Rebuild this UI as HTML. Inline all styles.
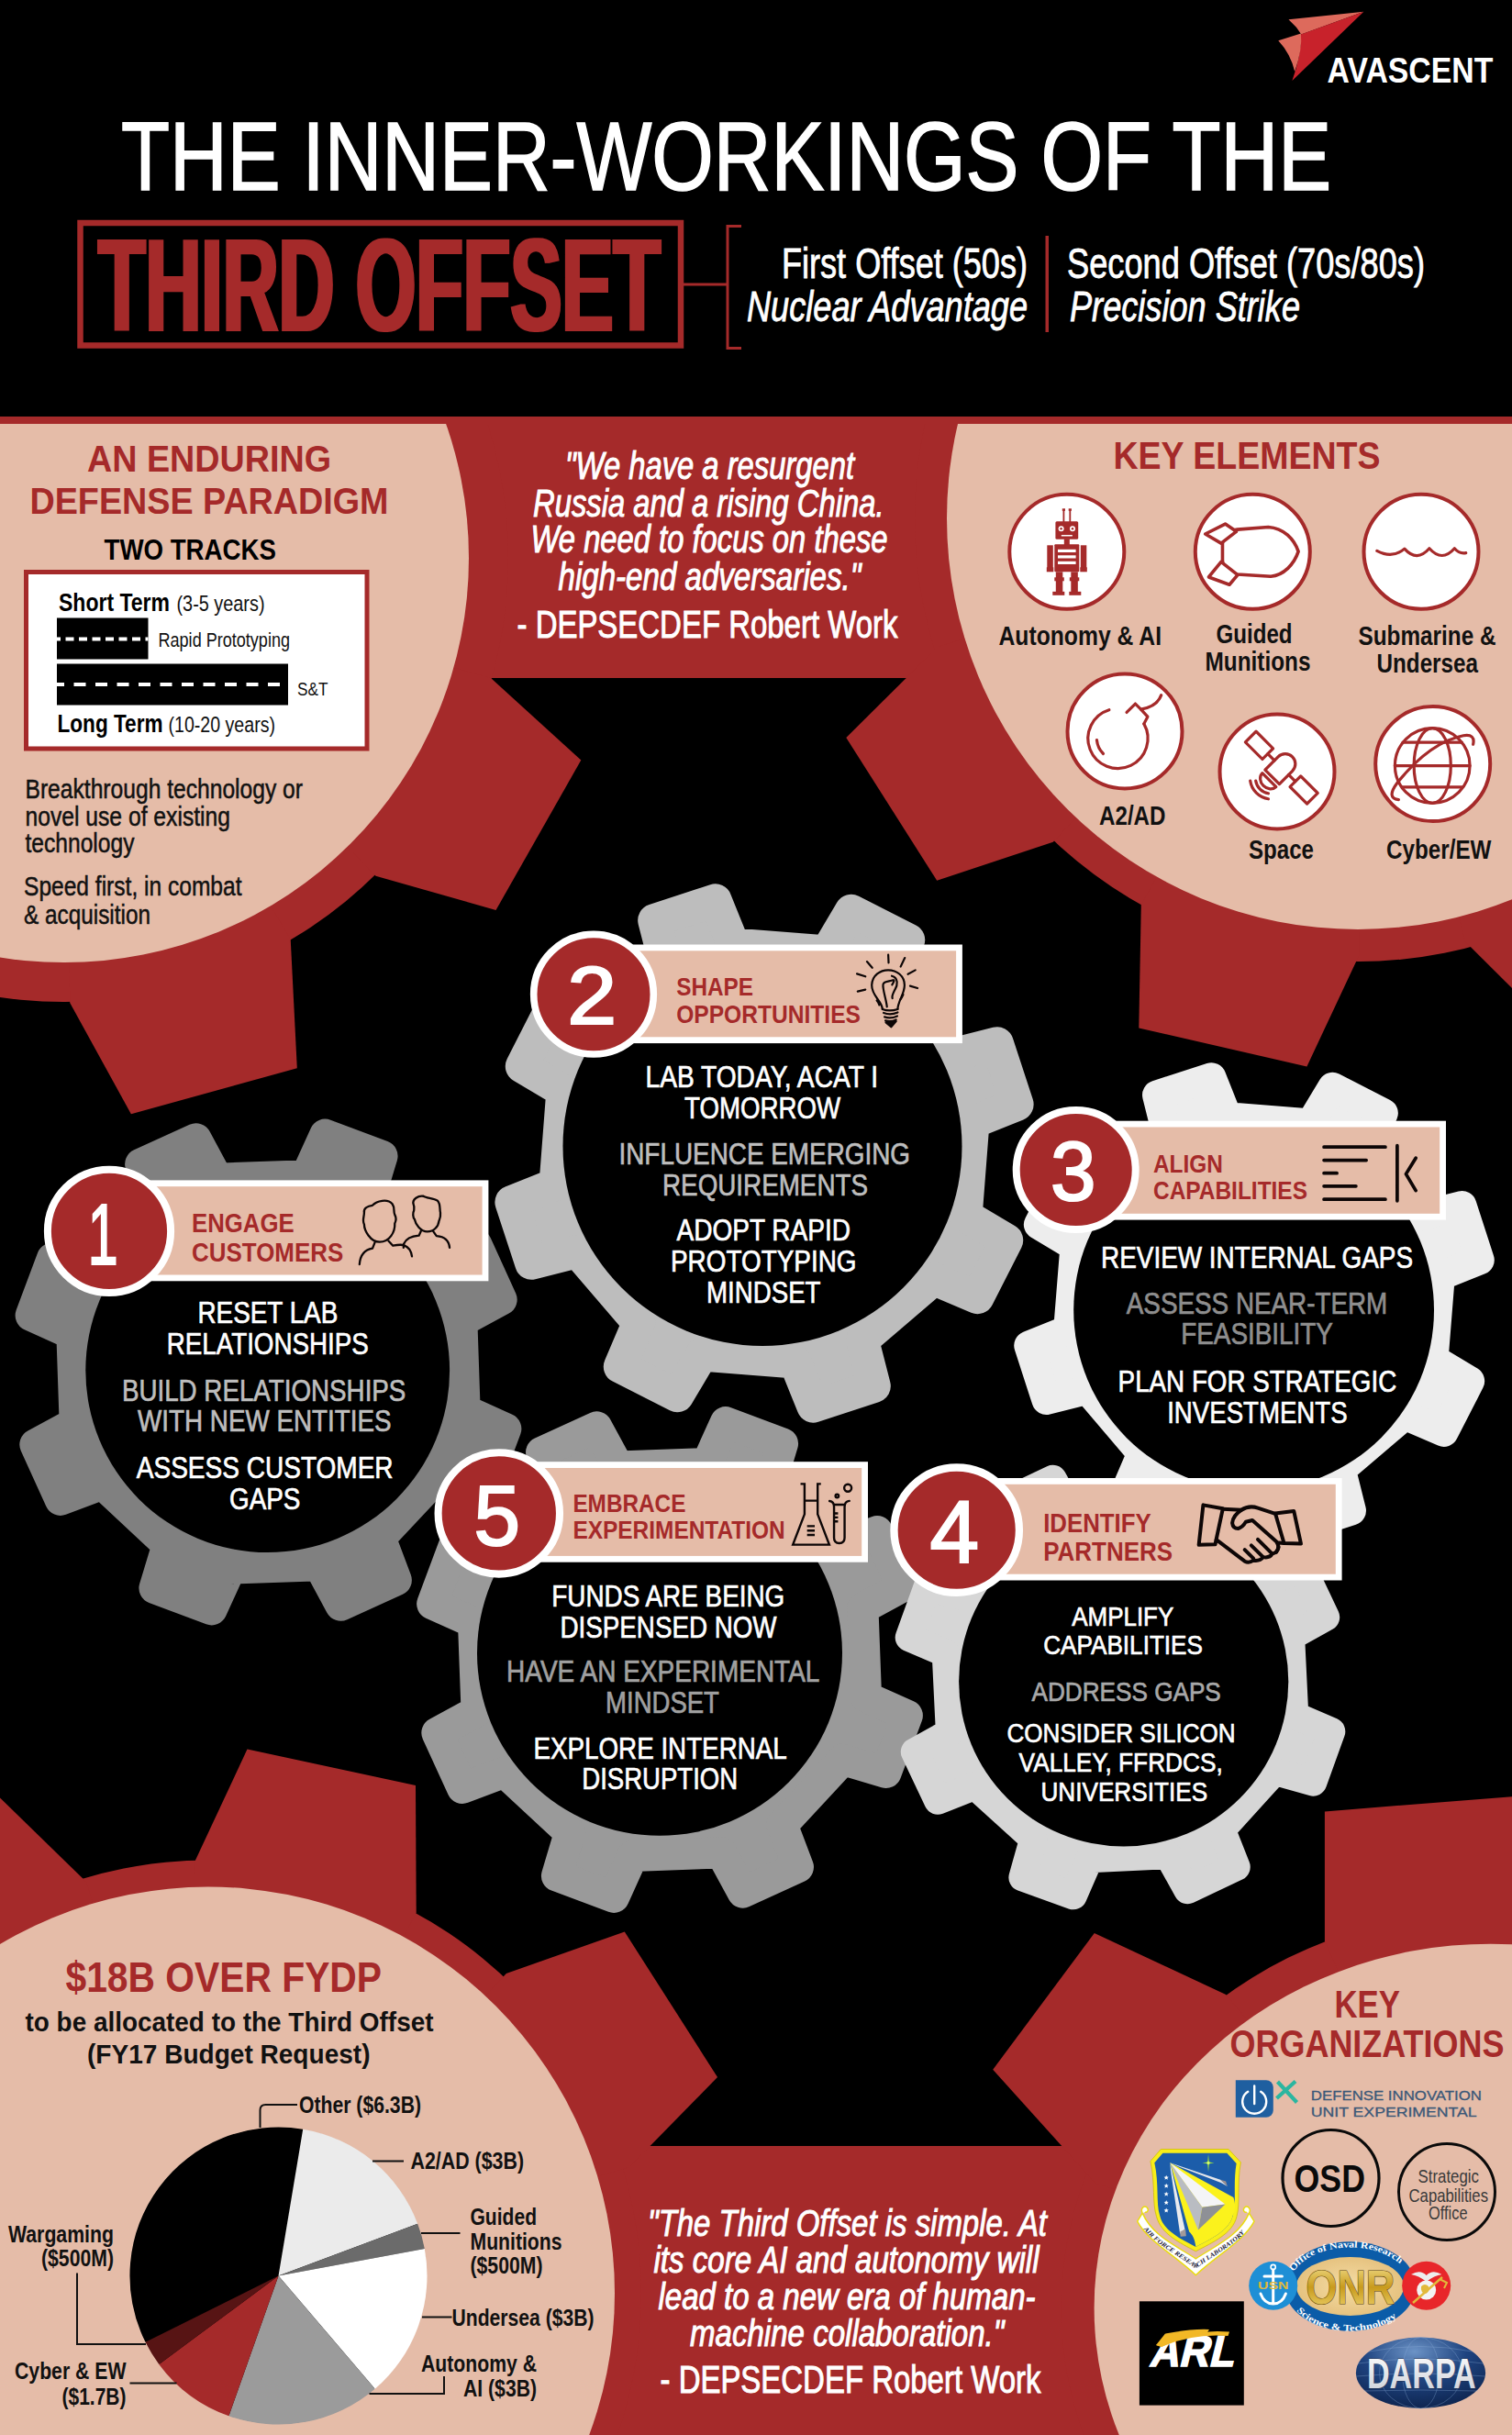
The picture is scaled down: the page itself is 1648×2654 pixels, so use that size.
<!DOCTYPE html>
<html><head><meta charset="utf-8"><title>The Inner-Workings of the Third Offset</title>
<style>
html,body{margin:0;padding:0;background:#000;}
svg{display:block;}
text{font-family:"Liberation Sans",sans-serif;}
.b{font-weight:bold}.i{font-style:italic}
</style></head><body>
<svg width="1648" height="2654" viewBox="0 0 1648 2654">
<rect x="0" y="0" width="1648" height="2654" fill="#000"/>
<rect x="0" y="454" width="1648" height="285" fill="#A52A2A"/>
<rect x="0" y="2339" width="1648" height="315" fill="#A52A2A"/>
<clipPath id="cp"><rect x="0" y="454" width="1648" height="2200"/></clipPath>
<g clip-path="url(#cp)">
<circle cx="70" cy="608" r="484" fill="#A52A2A"/>
<polygon points="465.2,719.4 535,739 633.3,828.6 540.5,992 409.5,954.8 358.6,902.8" fill="#A52A2A"/>
<polygon points="279.7,961.4 316.7,1023.8 323.8,1164.3 142.9,1214.3 76.2,1092.9 75.3,1020.2" fill="#A52A2A"/>
<circle cx="70" cy="608" r="441" fill="#E5BCA8"/>
<circle cx="1480" cy="565" r="483" fill="#A52A2A"/>
<polygon points="1090.7,684 1022,705 922.3,803.9 1021.2,959.7 1147.8,917.8 1197.6,864.9" fill="#A52A2A"/>
<polygon points="1279.2,922.8 1243.8,985.9 1241.3,1120.5 1424.4,1162.5 1481.3,1041.3 1481.1,969.9" fill="#A52A2A"/>
<polygon points="1579.5,957.1 1597,1026.3 1712,1140.5 1800,1000 1750,900 1709.5,849.8" fill="#A52A2A"/>
<circle cx="1480" cy="565" r="448" fill="#E5BCA8"/>
<circle cx="227" cy="2499.5" r="472" fill="#A52A2A"/>
<polygon points="213.9,2100.8 211.6,2030.5 269.5,1906.5 453,1946 453.7,2085 419.7,2147.2" fill="#A52A2A"/>
<polygon points="503.1,2203.3 551.8,2151 680.8,2105.5 782,2264 686,2362 617.1,2382.6" fill="#A52A2A"/>
<polygon points="114.1,2118.5 94.2,2051.3 -19,1941 -200,2100 -100,2300 -50.9,2329.9" fill="#A52A2A"/>
<circle cx="227" cy="2499.5" r="443" fill="#E5BCA8"/>
<ellipse cx="1624.8" cy="2515.5" rx="468.2" ry="432.8" fill="#A52A2A"/>
<polygon points="1471,2175.9 1443.9,2116 1443.9,1974.4 1700,1954 1700,2100 1688.7,2162.3" fill="#A52A2A"/>
<polygon points="1379.5,2225.3 1336.2,2174.1 1192.8,2107 1082.2,2255.8 1193.8,2379.5 1258.5,2399.9" fill="#A52A2A"/>
<ellipse cx="1624.8" cy="2515.5" rx="432.2" ry="396.8" fill="#E5BCA8"/>
</g>
<rect x="0" y="454" width="1648" height="8" fill="#A52A2A"/>
<g fill="#808080" stroke="#808080">
<path d="M506.6 1537 L551.3 1557.3 L528 1619.5 L480.9 1605.3 L414.5 1676.2 L431.8 1722.2 L371.4 1749.6 L348.1 1706.3 L251 1709.6 L230.7 1754.3 L168.5 1731 L182.7 1683.9 L111.8 1617.5 L65.8 1634.8 L38.4 1574.4 L81.7 1551.1 L78.4 1454 L33.7 1433.7 L57 1371.5 L104.1 1385.7 L170.5 1314.8 L153.2 1268.8 L213.6 1241.4 L236.9 1284.7 L334 1281.4 L354.3 1236.7 L416.5 1260 L402.3 1307.1 L473.2 1373.5 L519.2 1356.2 L546.6 1416.6 L503.3 1439.9 Z" stroke-width="34.1" stroke-linejoin="round"/>
</g>
<circle cx="292.5" cy="1495.5" r="0" fill="#000"/>
<circle cx="291.7" cy="1493.6" r="198.4" fill="#000"/>
<g fill="#9A9A9A" stroke="#9A9A9A">
<path d="M944 1849.7 L988.8 1869.9 L965.6 1932 L918.6 1918 L852.5 1989.1 L869.9 2035 L809.7 2062.6 L786.2 2019.4 L689.3 2023 L669.1 2067.8 L607 2044.6 L621 1997.6 L549.9 1931.5 L504 1948.9 L476.4 1888.7 L519.6 1865.2 L516 1768.3 L471.2 1748.1 L494.4 1686 L541.4 1700 L607.5 1628.9 L590.1 1583 L650.3 1555.4 L673.8 1598.6 L770.7 1595 L790.9 1550.2 L853 1573.4 L839 1620.4 L910.1 1686.5 L956 1669.1 L983.6 1729.3 L940.4 1752.8 Z" stroke-width="34.1" stroke-linejoin="round"/>
</g>
<circle cx="730" cy="1809" r="0" fill="#000"/>
<circle cx="719" cy="1801.8" r="199" fill="#000"/>
<g fill="#D6D6D6" stroke="#D6D6D6">
<path d="M1411.2 1869.8 L1451.2 1887.2 L1431.3 1942.5 L1389.4 1930.7 L1331.6 1994.4 L1347.6 2034.9 L1294.4 2060.1 L1273.2 2022 L1187.2 2026.2 L1169.8 2066.2 L1114.5 2046.3 L1126.3 2004.4 L1062.6 1946.6 L1022.1 1962.6 L996.9 1909.4 L1035 1888.2 L1030.8 1802.2 L990.8 1784.8 L1010.7 1729.5 L1052.6 1741.3 L1110.4 1677.6 L1094.4 1637.1 L1147.6 1611.9 L1168.8 1650 L1254.8 1645.8 L1272.2 1605.8 L1327.5 1625.7 L1315.7 1667.6 L1379.4 1725.4 L1419.9 1709.4 L1445.1 1762.6 L1407 1783.8 Z" stroke-width="30.2" stroke-linejoin="round"/>
</g>
<circle cx="1221" cy="1836" r="0" fill="#000"/>
<circle cx="1224.7" cy="1832.8" r="179.6" fill="#000"/>
<g fill="#BDBDBD" stroke="#BDBDBD">
<path d="M1052.6 1325.3 L1097.2 1351.8 L1065.5 1414.2 L1017.8 1393.9 L940 1460.6 L952.8 1510.8 L886.3 1532.6 L866.9 1484.5 L764.7 1476.6 L738.2 1521.2 L675.8 1489.5 L696.1 1441.8 L629.4 1364 L579.2 1376.8 L557.4 1310.3 L605.5 1290.9 L613.4 1188.7 L568.8 1162.2 L600.5 1099.8 L648.2 1120.1 L726 1053.4 L713.2 1003.2 L779.7 981.4 L799.1 1029.5 L901.3 1037.4 L927.8 992.8 L990.2 1024.5 L969.9 1072.2 L1036.6 1150 L1086.8 1137.2 L1108.6 1203.7 L1060.5 1223.1 Z" stroke-width="36" stroke-linejoin="round"/>
</g>
<circle cx="833" cy="1257" r="0" fill="#000"/>
<circle cx="831" cy="1249.5" r="217.5" fill="#000"/>
<g fill="#EDEDED" stroke="#EDEDED">
<path d="M1562.5 1481.5 L1602.1 1505.3 L1573.7 1560.8 L1531.2 1542.6 L1461.7 1601.7 L1472.9 1646.5 L1413.6 1665.7 L1396.5 1622.8 L1305.5 1615.5 L1281.7 1655.1 L1226.2 1626.7 L1244.4 1584.2 L1185.3 1514.7 L1140.5 1525.9 L1121.3 1466.6 L1164.2 1449.5 L1171.5 1358.5 L1131.9 1334.7 L1160.3 1279.2 L1202.8 1297.4 L1272.3 1238.3 L1261.1 1193.5 L1320.4 1174.3 L1337.5 1217.2 L1428.5 1224.5 L1452.3 1184.9 L1507.8 1213.3 L1489.6 1255.8 L1548.7 1325.3 L1593.5 1314.1 L1612.7 1373.4 L1569.8 1390.5 Z" stroke-width="32.1" stroke-linejoin="round"/>
</g>
<circle cx="1367" cy="1420" r="0" fill="#000"/>
<circle cx="1366.6" cy="1428" r="196.4" fill="#000"/>
<text x="132" y="207" font-size="105.8" fill="#fff" textLength="1319" lengthAdjust="spacingAndGlyphs" stroke="#fff" stroke-width="1.6">THE INNER-WORKINGS OF THE</text>
<rect x="87.5" y="243" width="654.5" height="133.5" fill="none" stroke="#A52A2A" stroke-width="6.5"/>
<filter id="fatx" x="-2%" y="-5%" width="104%" height="110%"><feMorphology operator="dilate" radius="2 0.01"/></filter>
<text x="107" y="361" font-size="143.9" fill="#A52A2A" class="b" textLength="613" lengthAdjust="spacingAndGlyphs" filter="url(#fatx)">THIRD OFFSET</text>
<path d="M745 310H793M808 246.5H793V379.5H808" fill="none" stroke="#A52A2A" stroke-width="3"/>
<rect x="1139.5" y="257" width="3.5" height="105" fill="#A52A2A"/>
<text x="852" y="303" font-size="45.3" fill="#fff" textLength="268" lengthAdjust="spacingAndGlyphs" stroke="#fff" stroke-width="0.8">First Offset (50s)</text>
<text x="814" y="349.5" font-size="45.3" fill="#fff" class="i" textLength="306" lengthAdjust="spacingAndGlyphs" stroke="#fff" stroke-width="0.8">Nuclear Advantage</text>
<text x="1163" y="303" font-size="45.3" fill="#fff" textLength="390" lengthAdjust="spacingAndGlyphs" stroke="#fff" stroke-width="0.8">Second Offset (70s/80s)</text>
<text x="1166" y="349.5" font-size="45.3" fill="#fff" class="i" textLength="251" lengthAdjust="spacingAndGlyphs" stroke="#fff" stroke-width="0.8">Precision Strike</text>
<text x="95" y="513.5" font-size="41" fill="#A52A2A" class="b" textLength="266" lengthAdjust="spacingAndGlyphs">AN ENDURING</text>
<text x="32.5" y="560" font-size="41" fill="#A52A2A" class="b" textLength="391" lengthAdjust="spacingAndGlyphs">DEFENSE PARADIGM</text>
<text x="113.5" y="610" font-size="30.9" fill="#000" class="b" textLength="187.5" lengthAdjust="spacingAndGlyphs">TWO TRACKS</text>
<rect x="28.5" y="623.5" width="371.5" height="192.5" fill="#fff" stroke="#A52A2A" stroke-width="5"/>
<text x="64" y="666" font-size="28.1" fill="#000" class="b" textLength="121" lengthAdjust="spacingAndGlyphs">Short Term</text>
<text x="192.5" y="666" font-size="24.5" fill="#111" textLength="96" lengthAdjust="spacingAndGlyphs">(3-5 years)</text>
<rect x="62" y="673.5" width="99.5" height="45" fill="#000"/>
<path d="M62 696.5H161.5" stroke="#fff" stroke-width="4" stroke-dasharray="9 5.5" stroke-dashoffset="5"/>
<text x="172.5" y="705" font-size="21.6" fill="#111" textLength="143.5" lengthAdjust="spacingAndGlyphs">Rapid Prototyping</text>
<rect x="62" y="723.5" width="252" height="45" fill="#000"/>
<path d="M62 746H314" stroke="#fff" stroke-width="4" stroke-dasharray="13 10.5" stroke-dashoffset="5"/>
<text x="324" y="757.5" font-size="20.9" fill="#111" textLength="33.5" lengthAdjust="spacingAndGlyphs">S&amp;T</text>
<text x="62.5" y="797.5" font-size="28.1" fill="#000" class="b" textLength="115" lengthAdjust="spacingAndGlyphs">Long Term</text>
<text x="183.5" y="797.5" font-size="24.5" fill="#111" textLength="116.5" lengthAdjust="spacingAndGlyphs">(10-20 years)</text>
<text x="27.5" y="870" font-size="28.8" fill="#111" textLength="302.5" lengthAdjust="spacingAndGlyphs" stroke="#111" stroke-width="0.5">Breakthrough technology or</text>
<text x="27.5" y="900" font-size="28.8" fill="#111" textLength="223.5" lengthAdjust="spacingAndGlyphs" stroke="#111" stroke-width="0.5">novel use of existing</text>
<text x="27.5" y="929" font-size="28.8" fill="#111" textLength="119" lengthAdjust="spacingAndGlyphs" stroke="#111" stroke-width="0.5">technology</text>
<text x="26" y="976" font-size="28.8" fill="#111" textLength="237.5" lengthAdjust="spacingAndGlyphs" stroke="#111" stroke-width="0.5">Speed first, in combat</text>
<text x="26" y="1006.5" font-size="28.8" fill="#111" textLength="138" lengthAdjust="spacingAndGlyphs" stroke="#111" stroke-width="0.5">&amp; acquisition</text>
<text x="616" y="521.5" font-size="41.7" fill="#fff" class="i" textLength="315" lengthAdjust="spacingAndGlyphs" stroke="#fff" stroke-width="1">"We have a resurgent</text>
<text x="581" y="562.5" font-size="41.7" fill="#fff" class="i" textLength="382.5" lengthAdjust="spacingAndGlyphs" stroke="#fff" stroke-width="1">Russia and a rising China.</text>
<text x="578.5" y="601.5" font-size="41.7" fill="#fff" class="i" textLength="389" lengthAdjust="spacingAndGlyphs" stroke="#fff" stroke-width="1">We need to focus on these</text>
<text x="608.5" y="642.5" font-size="41.7" fill="#fff" class="i" textLength="330" lengthAdjust="spacingAndGlyphs" stroke="#fff" stroke-width="1">high-end adversaries."</text>
<text x="563.5" y="695" font-size="43.2" fill="#fff" textLength="415" lengthAdjust="spacingAndGlyphs" stroke="#fff" stroke-width="1">- DEPSECDEF Robert Work</text>
<text x="1213.5" y="511" font-size="43.2" fill="#A52A2A" class="b" textLength="291" lengthAdjust="spacingAndGlyphs">KEY ELEMENTS</text>
<circle cx="1162.8" cy="601.3" r="62.5" fill="#fff" stroke="#A52A2A" stroke-width="4"/>
<circle cx="1365.3" cy="601.3" r="62.5" fill="#fff" stroke="#A52A2A" stroke-width="4"/>
<circle cx="1549" cy="601.3" r="62.5" fill="#fff" stroke="#A52A2A" stroke-width="4"/>
<circle cx="1226" cy="797" r="62.5" fill="#fff" stroke="#A52A2A" stroke-width="4"/>
<circle cx="1392" cy="841" r="62.5" fill="#fff" stroke="#A52A2A" stroke-width="4"/>
<circle cx="1561.7" cy="832.6" r="62.5" fill="#fff" stroke="#A52A2A" stroke-width="4"/>
<text x="1088.5" y="702.5" font-size="28.8" fill="#111" class="b" textLength="177.5" lengthAdjust="spacingAndGlyphs">Autonomy &amp; AI</text>
<text x="1325.5" y="701" font-size="28.8" fill="#111" class="b" textLength="83" lengthAdjust="spacingAndGlyphs">Guided</text>
<text x="1313.5" y="731" font-size="28.8" fill="#111" class="b" textLength="115" lengthAdjust="spacingAndGlyphs">Munitions</text>
<text x="1480.5" y="702.5" font-size="28.8" fill="#111" class="b" textLength="150" lengthAdjust="spacingAndGlyphs">Submarine &amp;</text>
<text x="1500.5" y="732.5" font-size="28.8" fill="#111" class="b" textLength="110.5" lengthAdjust="spacingAndGlyphs">Undersea</text>
<text x="1198" y="898.5" font-size="28.8" fill="#111" class="b" textLength="72.5" lengthAdjust="spacingAndGlyphs">A2/AD</text>
<text x="1361" y="936" font-size="28.8" fill="#111" class="b" textLength="71" lengthAdjust="spacingAndGlyphs">Space</text>
<text x="1511" y="936" font-size="28.8" fill="#111" class="b" textLength="114.5" lengthAdjust="spacingAndGlyphs">Cyber/EW</text>
<rect x="119" y="1289.8" width="410" height="103.1" fill="#E5BCA8" stroke="#fff" stroke-width="6.8"/>
<circle cx="119" cy="1341.9" r="67.1" fill="#A52A2A" stroke="#fff" stroke-width="8"/>
<text x="209.1" y="1342.8" font-size="28.8" fill="#A52A2A" class="b" textLength="111.5" lengthAdjust="spacingAndGlyphs">ENGAGE</text>
<text x="209.1" y="1374.5" font-size="28.8" fill="#A52A2A" class="b" textLength="165.1" lengthAdjust="spacingAndGlyphs">CUSTOMERS</text>
<text x="95.8" y="1378" font-size="95.1" fill="#fff" textLength="32.9" lengthAdjust="spacingAndGlyphs" stroke="#fff" stroke-width="2.2">1</text>
<rect x="647" y="1032.9" width="398.5" height="100.8" fill="#E5BCA8" stroke="#fff" stroke-width="6.8"/>
<circle cx="647" cy="1083.7" r="65.3" fill="#A52A2A" stroke="#fff" stroke-width="7.6"/>
<text x="737.2" y="1084.8" font-size="28.1" fill="#A52A2A" class="b" textLength="83.8" lengthAdjust="spacingAndGlyphs">SHAPE</text>
<text x="737.2" y="1114.6" font-size="28.1" fill="#A52A2A" class="b" textLength="200.8" lengthAdjust="spacingAndGlyphs">OPPORTUNITIES</text>
<text x="618.3" y="1116.2" font-size="88.7" fill="#fff" textLength="53.9" lengthAdjust="spacingAndGlyphs" stroke="#fff" stroke-width="2.2">2</text>
<rect x="1172.7" y="1225.1" width="399.9" height="101.1" fill="#E5BCA8" stroke="#fff" stroke-width="6.8"/>
<circle cx="1172.7" cy="1275" r="65" fill="#A52A2A" stroke="#fff" stroke-width="8"/>
<text x="1257" y="1278" font-size="28.1" fill="#A52A2A" class="b" textLength="75.9" lengthAdjust="spacingAndGlyphs">ALIGN</text>
<text x="1257" y="1307.4" font-size="28.1" fill="#A52A2A" class="b" textLength="168" lengthAdjust="spacingAndGlyphs">CAPABILITIES</text>
<text x="1145.1" y="1307.7" font-size="91" fill="#fff" textLength="49.5" lengthAdjust="spacingAndGlyphs" stroke="#fff" stroke-width="2.2">3</text>
<rect x="1042.7" y="1614.4" width="416.5" height="104.7" fill="#E5BCA8" stroke="#fff" stroke-width="6.8"/>
<circle cx="1042.7" cy="1667.7" r="68.2" fill="#A52A2A" stroke="#fff" stroke-width="8.3"/>
<text x="1137.2" y="1670.3" font-size="28.8" fill="#A52A2A" class="b" textLength="117.5" lengthAdjust="spacingAndGlyphs">IDENTIFY</text>
<text x="1137.2" y="1700.9" font-size="28.8" fill="#A52A2A" class="b" textLength="140.8" lengthAdjust="spacingAndGlyphs">PARTNERS</text>
<text x="1013.4" y="1702.6" font-size="96.1" fill="#fff" textLength="53.5" lengthAdjust="spacingAndGlyphs" stroke="#fff" stroke-width="2.2">4</text>
<rect x="543.8" y="1596.6" width="398.8" height="102.7" fill="#E5BCA8" stroke="#fff" stroke-width="6.8"/>
<circle cx="543.8" cy="1649.4" r="66.2" fill="#A52A2A" stroke="#fff" stroke-width="8.1"/>
<text x="624.4" y="1647.6" font-size="27.3" fill="#A52A2A" class="b" textLength="123" lengthAdjust="spacingAndGlyphs">EMBRACE</text>
<text x="624.4" y="1677.4" font-size="27.3" fill="#A52A2A" class="b" textLength="231.3" lengthAdjust="spacingAndGlyphs">EXPERIMENTATION</text>
<text x="516.5" y="1683.6" font-size="92.9" fill="#fff" textLength="50.5" lengthAdjust="spacingAndGlyphs" stroke="#fff" stroke-width="2.2">5</text>
<text x="215.5" y="1442" font-size="32.7" fill="#fff" textLength="152.8" lengthAdjust="spacingAndGlyphs" stroke="#fff" stroke-width="0.7">RESET LAB</text>
<text x="181.7" y="1475.7" font-size="32.7" fill="#fff" textLength="220.2" lengthAdjust="spacingAndGlyphs" stroke="#fff" stroke-width="0.7">RELATIONSHIPS</text>
<text x="132.9" y="1527.3" font-size="32.7" fill="#BDBDBD" textLength="309.5" lengthAdjust="spacingAndGlyphs" stroke="#BDBDBD" stroke-width="0.7">BUILD RELATIONSHIPS</text>
<text x="150" y="1560.2" font-size="32.7" fill="#BDBDBD" textLength="276.6" lengthAdjust="spacingAndGlyphs" stroke="#BDBDBD" stroke-width="0.7">WITH NEW ENTITIES</text>
<text x="148.8" y="1611.4" font-size="32.7" fill="#fff" textLength="279.8" lengthAdjust="spacingAndGlyphs" stroke="#fff" stroke-width="0.7">ASSESS CUSTOMER</text>
<text x="250" y="1645.2" font-size="32.7" fill="#fff" textLength="77.4" lengthAdjust="spacingAndGlyphs" stroke="#fff" stroke-width="0.7">GAPS</text>
<text x="703.5" y="1185" font-size="33.4" fill="#fff" textLength="253.5" lengthAdjust="spacingAndGlyphs" stroke="#fff" stroke-width="0.7">LAB TODAY, ACAT I</text>
<text x="746" y="1218.5" font-size="33.4" fill="#fff" textLength="170" lengthAdjust="spacingAndGlyphs" stroke="#fff" stroke-width="0.7">TOMORROW</text>
<text x="674.5" y="1268.5" font-size="33.4" fill="#BDBDBD" textLength="317.5" lengthAdjust="spacingAndGlyphs" stroke="#BDBDBD" stroke-width="0.7">INFLUENCE EMERGING</text>
<text x="722" y="1302.5" font-size="33.4" fill="#BDBDBD" textLength="224" lengthAdjust="spacingAndGlyphs" stroke="#BDBDBD" stroke-width="0.7">REQUIREMENTS</text>
<text x="737.5" y="1351.5" font-size="33.4" fill="#fff" textLength="189.5" lengthAdjust="spacingAndGlyphs" stroke="#fff" stroke-width="0.7">ADOPT RAPID</text>
<text x="731" y="1386" font-size="33.4" fill="#fff" textLength="202.5" lengthAdjust="spacingAndGlyphs" stroke="#fff" stroke-width="0.7">PROTOTYPING</text>
<text x="770" y="1420" font-size="33.4" fill="#fff" textLength="124.5" lengthAdjust="spacingAndGlyphs" stroke="#fff" stroke-width="0.7">MINDSET</text>
<text x="1200" y="1382" font-size="32.7" fill="#fff" textLength="340.1" lengthAdjust="spacingAndGlyphs" stroke="#fff" stroke-width="0.7">REVIEW INTERNAL GAPS</text>
<text x="1227.8" y="1431.6" font-size="32.7" fill="#8E8E8E" textLength="284.5" lengthAdjust="spacingAndGlyphs" stroke="#8E8E8E" stroke-width="0.7">ASSESS NEAR-TERM</text>
<text x="1287.3" y="1465.3" font-size="32.7" fill="#8E8E8E" textLength="165.5" lengthAdjust="spacingAndGlyphs" stroke="#8E8E8E" stroke-width="0.7">FEASIBILITY</text>
<text x="1218.6" y="1516.9" font-size="32.7" fill="#fff" textLength="303.6" lengthAdjust="spacingAndGlyphs" stroke="#fff" stroke-width="0.7">PLAN FOR STRATEGIC</text>
<text x="1272.2" y="1550.6" font-size="32.7" fill="#fff" textLength="196.4" lengthAdjust="spacingAndGlyphs" stroke="#fff" stroke-width="0.7">INVESTMENTS</text>
<text x="1168.2" y="1771.5" font-size="29.8" fill="#fff" textLength="111.1" lengthAdjust="spacingAndGlyphs" stroke="#fff" stroke-width="0.7">AMPLIFY</text>
<text x="1137.2" y="1803.3" font-size="29.8" fill="#fff" textLength="173.8" lengthAdjust="spacingAndGlyphs" stroke="#fff" stroke-width="0.7">CAPABILITIES</text>
<text x="1124.5" y="1854.4" font-size="29.8" fill="#A8A8A8" textLength="206.3" lengthAdjust="spacingAndGlyphs" stroke="#A8A8A8" stroke-width="0.7">ADDRESS GAPS</text>
<text x="1097.5" y="1899.3" font-size="29.8" fill="#fff" textLength="249.2" lengthAdjust="spacingAndGlyphs" stroke="#fff" stroke-width="0.7">CONSIDER SILICON</text>
<text x="1110.6" y="1931" font-size="29.8" fill="#fff" textLength="222.2" lengthAdjust="spacingAndGlyphs" stroke="#fff" stroke-width="0.7">VALLEY, FFRDCS,</text>
<text x="1134.4" y="1962.8" font-size="29.8" fill="#fff" textLength="181.7" lengthAdjust="spacingAndGlyphs" stroke="#fff" stroke-width="0.7">UNIVERSITIES</text>
<text x="601.3" y="1751.2" font-size="32.7" fill="#fff" textLength="254" lengthAdjust="spacingAndGlyphs" stroke="#fff" stroke-width="0.7">FUNDS ARE BEING</text>
<text x="610.5" y="1784.9" font-size="32.7" fill="#fff" textLength="236.1" lengthAdjust="spacingAndGlyphs" stroke="#fff" stroke-width="0.7">DISPENSED NOW</text>
<text x="552.1" y="1833.3" font-size="32.7" fill="#A0A0A0" textLength="341.3" lengthAdjust="spacingAndGlyphs" stroke="#A0A0A0" stroke-width="0.7">HAVE AN EXPERIMENTAL</text>
<text x="660.1" y="1867.1" font-size="32.7" fill="#A0A0A0" textLength="123.8" lengthAdjust="spacingAndGlyphs" stroke="#A0A0A0" stroke-width="0.7">MINDSET</text>
<text x="581.5" y="1916.7" font-size="32.7" fill="#fff" textLength="276.2" lengthAdjust="spacingAndGlyphs" stroke="#fff" stroke-width="0.7">EXPLORE INTERNAL</text>
<text x="634.3" y="1950.4" font-size="32.7" fill="#fff" textLength="169.8" lengthAdjust="spacingAndGlyphs" stroke="#fff" stroke-width="0.7">DISRUPTION</text>
<text x="71.5" y="2170.5" font-size="45.3" fill="#A52A2A" class="b" textLength="344.5" lengthAdjust="spacingAndGlyphs">$18B OVER FYDP</text>
<text x="27.5" y="2214" font-size="30.2" fill="#111" class="b" textLength="445" lengthAdjust="spacingAndGlyphs">to be allocated to the Third Offset</text>
<text x="95" y="2249" font-size="30.2" fill="#111" class="b" textLength="308.5" lengthAdjust="spacingAndGlyphs">(FY17 Budget Request)</text>
<circle cx="303.5" cy="2480.5" r="161.3" fill="#000"/>
<path d="M303.5 2480.5 L158.5 2552.8 A162 162 0 0 1 330.2 2320.7 Z" fill="#000"/>
<path d="M303.5 2480.5 L330.2 2320.7 A162 162 0 0 1 455.2 2423.8 Z" fill="#EBEBEB"/>
<path d="M303.5 2480.5 L455.2 2423.8 A162 162 0 0 1 462.8 2451 Z" fill="#6B6B6B"/>
<path d="M303.5 2480.5 L462.8 2451 A162 162 0 0 1 408.7 2603.7 Z" fill="#FFFFFF"/>
<path d="M303.5 2480.5 L408.7 2603.7 A162 162 0 0 1 249.4 2633.2 Z" fill="#9B9B9B"/>
<path d="M303.5 2480.5 L249.4 2633.2 A162 162 0 0 1 173.3 2576.9 Z" fill="#A52A2A"/>
<path d="M303.5 2480.5 L173.3 2576.9 A162 162 0 0 1 158.5 2552.8 Z" fill="#571414"/>
<text x="326" y="2302.5" font-size="25.2" fill="#111" class="b" textLength="133" lengthAdjust="spacingAndGlyphs">Other ($6.3B)</text>
<text x="447.5" y="2364" font-size="25.2" fill="#111" class="b" textLength="123.5" lengthAdjust="spacingAndGlyphs">A2/AD ($3B)</text>
<text x="512.5" y="2425" font-size="25.2" fill="#111" class="b" textLength="72.5" lengthAdjust="spacingAndGlyphs">Guided</text>
<text x="512.5" y="2451.5" font-size="25.2" fill="#111" class="b" textLength="100" lengthAdjust="spacingAndGlyphs">Munitions</text>
<text x="512.5" y="2477.5" font-size="25.2" fill="#111" class="b" textLength="79" lengthAdjust="spacingAndGlyphs">($500M)</text>
<text x="492.5" y="2535" font-size="25.2" fill="#111" class="b" textLength="155" lengthAdjust="spacingAndGlyphs">Undersea ($3B)</text>
<text x="459" y="2585" font-size="25.2" fill="#111" class="b" textLength="126" lengthAdjust="spacingAndGlyphs">Autonomy &amp;</text>
<text x="505" y="2611.5" font-size="25.2" fill="#111" class="b" textLength="80" lengthAdjust="spacingAndGlyphs">AI ($3B)</text>
<text x="9" y="2444" font-size="25.2" fill="#111" class="b" textLength="115" lengthAdjust="spacingAndGlyphs">Wargaming</text>
<text x="45" y="2470" font-size="25.2" fill="#111" class="b" textLength="79" lengthAdjust="spacingAndGlyphs">($500M)</text>
<text x="16" y="2593" font-size="25.2" fill="#111" class="b" textLength="121.5" lengthAdjust="spacingAndGlyphs">Cyber &amp; EW</text>
<text x="67.5" y="2620.5" font-size="25.2" fill="#111" class="b" textLength="70" lengthAdjust="spacingAndGlyphs">($1.7B)</text>
<path d="M283.5 2319V2300Q283.5 2294 289.5 2294H324M406 2355.5H440M459 2434H501.5M460 2525.5H492.5M402.5 2609H484V2590M84 2477.5V2555H159M141.5 2597.5H192.5" fill="none" stroke="#111" stroke-width="2"/>
<text x="706" y="2436.5" font-size="41" fill="#fff" class="i" textLength="435" lengthAdjust="spacingAndGlyphs" stroke="#fff" stroke-width="1">"The Third Offset is simple. At</text>
<text x="712.5" y="2476.5" font-size="41" fill="#fff" class="i" textLength="420" lengthAdjust="spacingAndGlyphs" stroke="#fff" stroke-width="1">its core AI and autonomy will</text>
<text x="717.5" y="2516.5" font-size="41" fill="#fff" class="i" textLength="411" lengthAdjust="spacingAndGlyphs" stroke="#fff" stroke-width="1">lead to a new era of human-</text>
<text x="752" y="2556.5" font-size="41" fill="#fff" class="i" textLength="342.5" lengthAdjust="spacingAndGlyphs" stroke="#fff" stroke-width="1">machine collaboration."</text>
<text x="719.5" y="2608" font-size="43.2" fill="#fff" textLength="415" lengthAdjust="spacingAndGlyphs" stroke="#fff" stroke-width="1">- DEPSECDEF Robert Work</text>
<text x="1454.5" y="2199" font-size="43.2" fill="#A52A2A" class="b" textLength="71.5" lengthAdjust="spacingAndGlyphs">KEY</text>
<text x="1340.5" y="2241.5" font-size="43.2" fill="#A52A2A" class="b" textLength="299" lengthAdjust="spacingAndGlyphs">ORGANIZATIONS</text>
<g fill="#A52A2A" stroke="none" transform="translate(1162.8 601.3)"><rect x="-4.3" y="-46" width="1.8" height="14"/><rect x="2.6" y="-46" width="1.8" height="14"/><rect x="-5" y="-47" width="3.2" height="2.5"/><rect x="1.9" y="-47" width="3.2" height="2.5"/><rect x="-12.4" y="-33" width="24.8" height="19.5" rx="1.5"/><circle cx="-6.2" cy="-25" r="3" fill="#fff"/><circle cx="6.2" cy="-25" r="3" fill="#fff"/><circle cx="-6.2" cy="-25" r="1.2"/><circle cx="6.2" cy="-25" r="1.2"/><rect x="-6" y="-18.3" width="12" height="1.5" fill="#fff"/><rect x="-3" y="-14" width="6" height="7"/><rect x="-13.5" y="-8" width="27" height="30" rx="1"/><rect x="-9.8" y="-2.5" width="19.6" height="3.2" fill="#fff"/><rect x="-9.8" y="4" width="19.6" height="3.2" fill="#fff"/><rect x="-9.8" y="10.5" width="19.6" height="3.2" fill="#fff"/><rect x="-21.5" y="-7" width="6.5" height="26"/><rect x="15" y="-7" width="6.5" height="26"/><rect x="-22" y="17" width="7.5" height="5"/><rect x="14.5" y="17" width="7.5" height="5"/><rect x="-12" y="22" width="7.5" height="22"/><rect x="4.5" y="22" width="7.5" height="22"/><rect x="-13.5" y="28" width="10.5" height="4"/><rect x="3" y="28" width="10.5" height="4"/><rect x="-15.5" y="43.5" width="13" height="4"/><rect x="2.5" y="43.5" width="13" height="4"/></g>
<g transform="translate(1080 520) scale(0.3757)" fill="none" stroke="#A52A2A" stroke-width="9.6" stroke-linecap="round" stroke-linejoin="round"><path d="M892 216 C880 180 850 148 805 145 L715 152 C690 156 672 172 672 195 L672 240 C672 262 690 278 715 282 L812 288 C850 285 880 252 892 216Z" fill="#fff"/><path d="M668 192 L622 165 L680 136 L712 158 Z" fill="#fff"/><path d="M668 246 L632 290 L692 312 L716 284 Z" fill="#fff"/></g>
<g transform="translate(1080 520) scale(0.3757)" fill="none" stroke="#A52A2A" stroke-width="8.5" stroke-linecap="round" stroke-linejoin="round"><path d="M1120 214 Q1165 238 1200 208 Q1236 248 1272 207 Q1309 248 1345 207 Q1360 224 1378 220"/></g>
<g transform="translate(1140 720) scale(0.3360)" fill="none" stroke="#A52A2A" stroke-width="9.5" stroke-linecap="round" stroke-linejoin="round"><path d="M205 160 A97 97 0 1 0 318 205" /><path d="M165 258 Q168 285 186 302"/><path d="M262 168 L290 140 L308 158 L330 182 L318 205"/><path d="M308 158 Q360 150 374 112"/></g>
<g transform="translate(1320 770) scale(0.2116)" fill="none" stroke="#A52A2A" stroke-width="15.1" stroke-linecap="round" stroke-linejoin="round"><g transform="translate(363 315) rotate(45)"><path d="M-52 68 L-52 -27 A52 52 0 0 1 52 -27 L52 68 Z"/><rect x="-224.6" y="-39" width="124" height="78"/><rect x="100.6" y="-39" width="124" height="78"/><path d="M-100 0H-52M52 0H100"/><path d="M-50 90 A50 42 0 0 0 50 90 Z"/><path d="M-46 142 A78 78 0 0 0 46 142M-66 162 A110 110 0 0 0 66 162"/></g></g>
<g transform="translate(1320 770) scale(0.2116)" fill="none" stroke="#A52A2A" stroke-width="15.1" stroke-linecap="round" stroke-linejoin="round"><circle cx="1140" cy="305" r="193"/><ellipse cx="1140" cy="305" rx="95" ry="193"/><path d="M947 305H1333M988 185H1292M985 415H1295"/><path d="M1350 195 Q1362 140 1300 150 Q1130 182 960 392 Q900 472 966 480"/></g>
<g transform="translate(380 1290) scale(0.10582)" fill="none" stroke="#0d0606" stroke-width="21.7" stroke-linecap="round" stroke-linejoin="round"><path d="M160 300 C150 250 200 232 245 225 C290 178 400 152 450 210 C480 250 458 290 475 320 C496 360 486 390 475 412 C480 500 420 602 320 602 C222 602 160 480 160 420 C138 380 160 340 160 300Z"/><path d="M270 606 L246 668 Q122 690 112 832"/><path d="M410 590 L456 640 Q540 624 572 636 Q640 662 652 750"/><path d="M668 215 C650 160 720 122 770 130 C800 150 880 150 915 176 C950 210 935 270 945 300 C950 350 936 370 930 386 C925 440 880 495 810 495 C740 495 690 420 680 370 C660 350 660 300 672 280 C676 250 680 240 668 215Z"/><path d="M745 490 L724 536 Q600 546 568 622 L565 660"/><path d="M870 490 L905 540 Q1030 550 1040 660"/></g>
<g transform="translate(910 1030) scale(0.09921)" fill="none" stroke="#0d0606" stroke-width="22.2" stroke-linecap="round" stroke-linejoin="round"><path d="M522 705 C522 620 402 560 405 440 C410 330 500 275 585 275 C680 275 765 340 765 440 C765 540 690 620 690 705"/><path d="M522 705 Q600 735 690 705"/><path d="M535 745 Q610 775 690 740M545 790 Q612 815 685 780M555 830 Q615 850 672 820"/><path d="M560 850 L672 838 L618 900 Z" fill="#0d0606"/><path d="M572 680 C565 600 520 480 530 430 C540 392 600 402 640 386 C662 380 640 420 628 438"/><path d="M625 340 C700 360 690 440 660 490 C640 530 622 560 632 585"/><path d="M586 108 L590 195M352 182 L410 250M768 142 L722 238M242 316 L335 346M884 276 L802 320M250 510 L335 490M826 450 L908 474"/><path d="M460 610 Q480 630 488 660M750 545 Q735 580 718 600"/></g>
<g transform="translate(1420 1220) scale(0.11244)" fill="none" stroke="#0d0606" stroke-width="32.9" stroke-linecap="round" stroke-linejoin="round"><path d="M205 268H800M205 396H615M205 522H330M205 648H515M205 775H800M915 255V790M1095 375L1000 530L1095 690"/></g>
<g transform="translate(1290 1610) scale(0.11905)" fill="none" stroke="#0d0606" stroke-width="33.6" stroke-linecap="round" stroke-linejoin="round"><path d="M180 255 L360 287 L290 615 L140 620Z"/><path d="M840 332 L1010 310 L1075 610 L920 605Z"/><path d="M360 292 L530 300 Q600 255 680 282 L840 335"/><path d="M530 300 Q452 350 446 420 Q452 470 500 470 Q540 460 570 410 L630 395 L850 590 Q885 640 850 685"/><path d="M300 572 L560 770 Q600 790 640 762 Q700 772 730 732 Q790 742 812 702 Q860 692 870 642"/><path d="M560 665 L640 745M620 625 L722 726M680 570 L802 692M872 600 L920 605"/></g>
<g transform="translate(840 1590) scale(0.07937)" fill="none" stroke="#0d0606" stroke-width="30.2" stroke-linecap="round" stroke-linejoin="round"><path d="M410 345 H465 V760 L305 1180 H805 L645 760 V345 H690" stroke-linejoin="miter" stroke-linecap="butt"/><path d="M465 575 H645M500 925 H605M500 985 H605M500 1045 H605" stroke-linecap="butt"/><path d="M808 580 Q870 585 870 660 V1085 Q870 1160 942 1160 Q1015 1160 1015 1085 V660 Q1015 585 1080 578"/><path d="M870 630 H1015M880 750 H925M880 805 H925M880 860 H925" stroke-linecap="butt"/><circle cx="912" cy="510" r="22"/><circle cx="1060" cy="400" r="50"/></g>
<g transform="translate(1380 0) scale(0.17724)">
<path d="M138 120 L600 72 L216 212 L186 168 Z" fill="#DD6A5C"/>
<path d="M600 72 L160 496 Q215 350 214 212 Z" fill="#C8222B"/>
<path d="M75 250 L214 206 Q225 300 176 440 Q150 330 75 250Z" fill="#DD6A5C"/>
</g>
<text x="1446.5" y="90.4" font-size="39.6" fill="#fff" class="b" textLength="180.8" lengthAdjust="spacingAndGlyphs">AVASCENT</text>
<path d="M1346.8 2267.2H1380a7.8 7.8 0 0 1 7.8 7.8V2300a7.8 7.8 0 0 1 -7.8 7.8H1346.8Z" fill="#1F5FA0"/>
<path d="M1360.2 2279.8A13 13 0 1 0 1374.2 2279.8M1367.2 2273.5V2293" fill="none" stroke="#fff" stroke-width="2.4" stroke-linecap="round"/>
<path d="M1392.5 2269L1413.5 2291.5M1412 2268.5L1391.5 2287" fill="none" stroke="#2BB6A0" stroke-width="4.2"/>
<text x="1428.8" y="2289.3" font-size="14.4" fill="#3B5878" textLength="186.2" lengthAdjust="spacingAndGlyphs" stroke="#3B5878" stroke-width="0.3">DEFENSE INNOVATION</text>
<text x="1428.8" y="2307.2" font-size="14.4" fill="#3B5878" textLength="180.9" lengthAdjust="spacingAndGlyphs" stroke="#3B5878" stroke-width="0.3">UNIT EXPERIMENTAL</text>
<circle cx="1450.5" cy="2374" r="52.5" fill="none" stroke="#0a0a0a" stroke-width="3.2"/>
<text x="1410.5" y="2389" font-size="43.2" fill="#0a0a0a" class="b" textLength="77.5" lengthAdjust="spacingAndGlyphs">OSD</text>
<circle cx="1577" cy="2389" r="52.5" fill="none" stroke="#0a0a0a" stroke-width="3"/>
<text x="1545.5" y="2379" font-size="20.9" fill="#3a3a3a" textLength="66.5" lengthAdjust="spacingAndGlyphs">Strategic</text>
<text x="1535.5" y="2400" font-size="20.9" fill="#3a3a3a" textLength="86.5" lengthAdjust="spacingAndGlyphs">Capabilities</text>
<text x="1557" y="2419" font-size="20.9" fill="#3a3a3a" textLength="42.5" lengthAdjust="spacingAndGlyphs">Office</text>
<g transform="translate(1220 2330) scale(0.11905)">
<path d="M380 105 L1000 105 L1112 225 C1075 420 1110 600 1075 720 C1040 880 850 960 700 1040 C550 960 380 880 340 720 C300 600 330 420 285 215 Z" fill="#F8EE1A" stroke="#C9B800" stroke-width="6"/>
<path d="M398 140 L985 140 L1072 235 C1040 420 1075 600 1040 710 C1010 850 840 925 700 1000 C560 925 400 850 370 710 C335 600 365 420 322 228 Z" fill="#1C5DAA"/>
<path d="M465 228 L1045 545 C1070 620 1060 680 1040 710 C1010 850 840 925 700 1000 C695 930 665 880 640 860 Z" fill="#FBF21C"/>
<path d="M465 228 L925 385 L990 445 L930 412 L540 262 Z" fill="#E4E6EA"/><path d="M925 385 L990 445 L975 400 Z" fill="#9A8F8F"/>
<path d="M465 228 L600 835 L556 880 L470 300 Z" fill="#E9EAEE"/><path d="M556 862 L606 836 L612 900 L560 905Z" fill="#A39A9A"/>
<path d="M465 228 L970 610 L760 637 Z" fill="#F4F4F6"/><path d="M465 228 L760 637 L722 845 Z" fill="#B9BCC2"/><path d="M760 637 L970 610 L722 845Z" fill="#8E9096"/>
<path d="M430 343 l6 15 16 1 -12 10 4 16 -14 -9 -14 9 4 -16 -12 -10 16 -1z" fill="#fff"/>
<path d="M430 418 l6 15 16 1 -12 10 4 16 -14 -9 -14 9 4 -16 -12 -10 16 -1z" fill="#fff"/>
<path d="M430 493 l6 15 16 1 -12 10 4 16 -14 -9 -14 9 4 -16 -12 -10 16 -1z" fill="#fff"/>
<path d="M430 571 l6 15 16 1 -12 10 4 16 -14 -9 -14 9 4 -16 -12 -10 16 -1z" fill="#fff"/>
<path d="M430 643 l6 15 16 1 -12 10 4 16 -14 -9 -14 9 4 -16 -12 -10 16 -1z" fill="#fff"/>
<path d="M815 150 L822 222 L870 230 L822 238 L815 315 L808 238 L760 230 L808 222Z" fill="#9BE03A"/><circle cx="815" cy="230" r="14" fill="#D8FF6A"/>
<path d="M165 765 C255 940 520 1085 700 1258 C880 1085 1145 940 1235 765 L1188 690 C1100 900 860 1000 700 1108 C540 1000 300 900 212 690 Z" fill="#fff" stroke="#E9DC10" stroke-width="12" stroke-linejoin="round"/>
<path d="M212 690 C190 650 225 615 255 640 C275 665 250 690 235 680M1188 690 C1210 650 1175 615 1145 640 C1125 665 1150 690 1165 680" fill="#fff" stroke="#E9DC10" stroke-width="12"/>
<path id="afp" d="M222 835 C330 975 520 1065 660 1170 Q700 1205 740 1170 C880 1065 1070 975 1178 835" fill="none"/>
<text font-size="58" fill="#1b1b3a" style="font-family:'Liberation Serif',serif;font-weight:bold;font-style:italic" textLength="1150" lengthAdjust="spacingAndGlyphs"><textPath href="#afp">AIR FORCE RESEARCH LABORATORY</textPath></text>
</g>
<defs><linearGradient id="gold" x1="0" y1="0" x2="0" y2="1"><stop offset="0" stop-color="#F7E79A"/><stop offset="0.5" stop-color="#C89A1C"/><stop offset="1" stop-color="#F1D875"/></linearGradient><radialGradient id="tan" cx="0.5" cy="0.5" r="0.6"><stop offset="0" stop-color="#F4DDA6"/><stop offset="1" stop-color="#E3BD78"/></radialGradient><radialGradient id="darpa" cx="0.45" cy="0.2" r="0.9"><stop offset="0" stop-color="#6C93C6"/><stop offset="0.45" stop-color="#1E437F"/><stop offset="1" stop-color="#0A1E45"/></radialGradient><linearGradient id="silver" x1="0" y1="0" x2="0" y2="1"><stop offset="0" stop-color="#ffffff"/><stop offset="1" stop-color="#C9CDD6"/></linearGradient></defs>
<ellipse cx="1471.5" cy="2492" rx="71.5" ry="48.8" fill="#0B5CA8"/>
<ellipse cx="1471.5" cy="2492" rx="58.5" ry="32" fill="url(#tan)"/>
<path id="onrt" d="M1409 2478 A66 42 0 0 1 1534 2478" fill="none"/><path id="onrb" d="M1411 2515 A64 38 0 0 0 1532 2515" fill="none"/>
<text font-size="10.2" fill="#fff" style="font-family:'Liberation Serif',serif;font-weight:bold" textLength="128" lengthAdjust="spacingAndGlyphs"><textPath href="#onrt" startOffset="2">Office of Naval Research</textPath></text>
<text font-size="10.2" fill="#fff" style="font-family:'Liberation Serif',serif;font-weight:bold" textLength="118" lengthAdjust="spacingAndGlyphs"><textPath href="#onrb" startOffset="4">Science &amp; Technology</textPath></text>
<text x="1423.6" y="2511" font-size="52.4" fill="url(#gold)" class="b" textLength="96.7" lengthAdjust="spacingAndGlyphs" stroke="#5A4308" stroke-width="1.2" paint-order="stroke">ONR</text>
<circle cx="1387.7" cy="2491.2" r="26.5" fill="#1E8FD6"/>
<g fill="none" stroke="#fff" stroke-width="3" stroke-linecap="round"><path d="M1387.7 2474V2509M1378 2481H1397.4M1374 2500Q1378 2511 1387.7 2511Q1397.4 2511 1401.4 2500"/><circle cx="1387.7" cy="2471" r="2.6" stroke-width="1.6"/></g>
<text x="1371" y="2495" font-size="10.8" fill="#E2B93B" class="b" textLength="33.5" lengthAdjust="spacingAndGlyphs">USN</text>
<circle cx="1554.7" cy="2491.2" r="26.5" fill="#E8262A"/>
<circle cx="1554.7" cy="2496" r="10.5" fill="#F3F3F3"/><path d="M1549 2492q4 -4 8 0q2 5 -3 8q-6 -1 -5 -8z" fill="#E2B93B"/>
<path d="M1538 2479q10 -6 16.7 1q6.700 -7 16.7 -1q-8 1 -16.7 8q-8.700 -7 -16.7 -8z" fill="#EDEDED"/><path d="M1540 2510L1572 2482" stroke="#E2B93B" stroke-width="2.4"/><path d="M1569 2484l8 4l-3 6" fill="none" stroke="#E2B93B" stroke-width="2"/>
<rect x="1241.9" y="2508.3" width="113.9" height="113.3" fill="#000"/>
<g transform="translate(1248 2578.8) skewX(-14)">
<text x="4" y="0" font-size="47.5" fill="#fff" class="b" textLength="92" lengthAdjust="spacingAndGlyphs" stroke="#fff" stroke-width="1.5">ARL</text>
</g>
<path d="M1260 2556 Q1300 2538 1340 2541.500 L1338.500 2546 Q1300 2543 1266 2558 Z" fill="#F2B826"/><path d="M1260 2556 L1270 2543.500 Q1300 2538 1318 2539 L1316 2542 Q1290 2545 1266 2558Z" fill="#F2B826"/>
<ellipse cx="1548.5" cy="2586.3" rx="70.6" ry="38.7" fill="url(#darpa)"/>
<g fill="none" stroke="#8FB0DA" stroke-width="0.6" opacity="0.55"><ellipse cx="1548.5" cy="2586.3" rx="45" ry="38.7"/><ellipse cx="1548.5" cy="2586.3" rx="20" ry="38.7"/><path d="M1480 2576Q1548 2566 1617 2576M1478 2590Q1548 2584 1619 2590M1486 2606Q1548 2604 1611 2606M1492 2563Q1548 2552 1605 2563"/></g>
<text x="1489.9" y="2602.8" font-size="46" fill="url(#silver)" class="b" textLength="118.9" lengthAdjust="spacingAndGlyphs" stroke="#26334f" stroke-width="0.8" paint-order="stroke">DARPA</text>
</svg>
</body></html>
